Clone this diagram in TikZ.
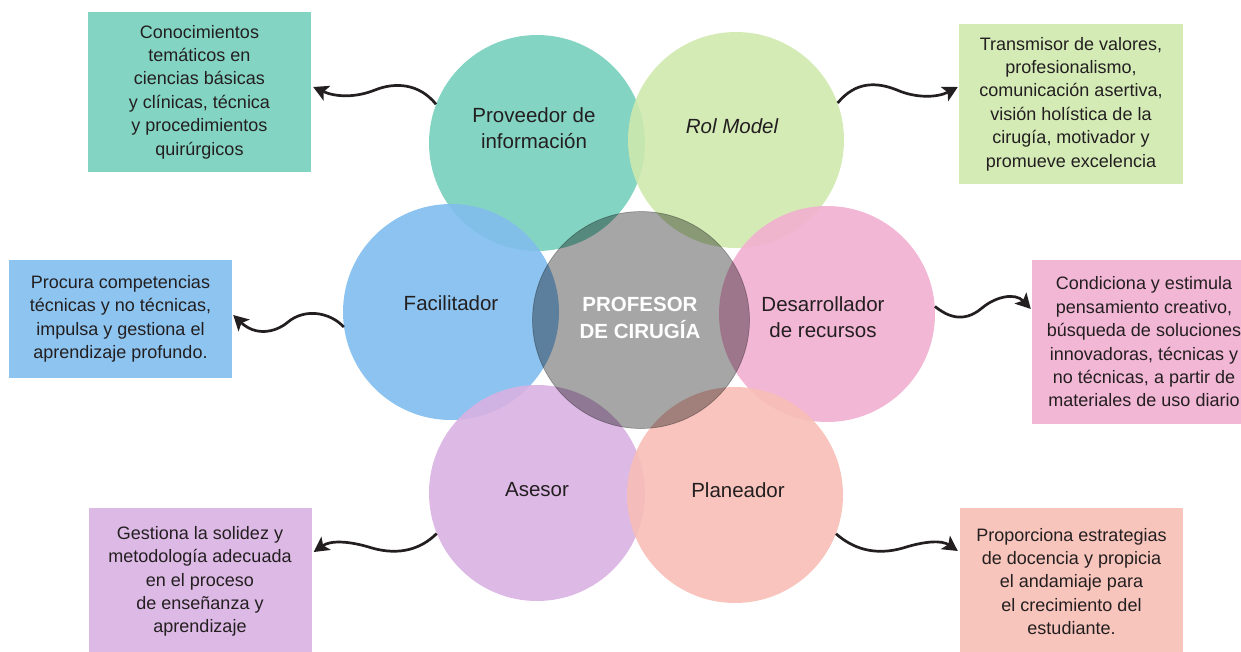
\documentclass[tikz,border=0pt]{standalone}
\usepackage{fontspec}
\setmainfont{Liberation Sans}
\usetikzlibrary{arrows.meta,calc}

\definecolor{ink}{HTML}{231F20}
% circle fills (drawn at 90% opacity)
\definecolor{tealC}{HTML}{76CFBC}
\definecolor{greenC}{HTML}{CFE9AE}
\definecolor{blueC}{HTML}{81BDEE}
\definecolor{pinkC}{HTML}{F2AFD1}
\definecolor{purpleC}{HTML}{D9B1E2}
\definecolor{salmonC}{HTML}{F7BEB6}
% box fills
\definecolor{tealB}{HTML}{84D4C3}
\definecolor{greenB}{HTML}{D4EBB6}
\definecolor{blueB}{HTML}{8EC4F0}
\definecolor{pinkB}{HTML}{F3B7D6}
\definecolor{purpleB}{HTML}{DDB9E5}
\definecolor{salmonB}{HTML}{F8C5BD}

\begin{document}
\begin{tikzpicture}[x=1pt,y=-1pt,
  role/.style={circle,minimum size=216pt,inner sep=0pt,fill opacity=0.9},
  rolelabel/.style={text=ink,align=center,font=\fontsize{20.5}{26.5}\selectfont},
  infobox/.style={rectangle,inner sep=0pt,text=ink,align=center,
                  font=\fontsize{18}{23.4}\selectfont},
  wave/.style={draw=ink,line width=2.7pt,
               -{Stealth[length=15pt,width=16pt,inset=3.5pt]}}]

\useasboundingbox (0,0) rectangle (1241,651);
\clip (0,0) rectangle (1241,651);

% six roles around the centre
\node[role,fill=tealC]   (tealc)   at (537,143) {};
\node[role,fill=greenC]  (greenc)  at (736,140) {};
\node[role,fill=blueC]   (bluec)   at (451,312) {};
\node[role,fill=pinkC]   (pinkc)   at (827,314) {};
\node[role,fill=purpleC] (purplec) at (537,493) {};
\node[role,fill=salmonC] (salmonc) at (735,495) {};

% central circle
\node[circle,minimum size=217pt,inner sep=0pt,fill=black,fill opacity=0.35,
      draw=black,draw opacity=0.3,line width=0.7pt] (core) at (641,320) {};
\node[text=white,align=center,font=\fontsize{20.5}{27.7}\selectfont\bfseries]
     (coretext) at (640,318) {PROFESOR\\DE CIRUGÍA};

% role labels
\node[rolelabel] (tealt)   at (534,128) {Proveedor de\\información};
\node[rolelabel] (greent)  at (732,126) {\itshape Rol Model};
\node[rolelabel] (bluet)   at (451,303) {Facilitador};
\node[rolelabel] (pinkt)   at (823,317) {Desarrollador\\de recursos};
\node[rolelabel] (purplet) at (537,490) {Asesor};
\node[rolelabel] (salmont) at (738,490) {Planeador};

% description boxes
\node[infobox,fill=tealB,minimum width=223pt,minimum height=160pt]
  (tealbox) at (199.5,92)
  {Conocimientos\\temáticos en\\ciencias básicas\\y clínicas, técnica\\y procedimientos\\quirúrgicos};
\node[infobox,fill=greenB,minimum width=224pt,minimum height=160pt]
  (greenbox) at (1071,104)
  {Transmisor de valores,\\profesionalismo,\\comunicación asertiva,\\visión holística de la\\cirugía, motivador y\\promueve excelencia};
\node[infobox,fill=blueB,minimum width=223pt,minimum height=118pt]
  (bluebox) at (120.5,319)
  {Procura competencias\\técnicas y no técnicas,\\impulsa y gestiona el\\aprendizaje profundo.};
\node[infobox,fill=pinkB,minimum width=224pt,minimum height=164pt]
  (pinkbox) at (1144,342)
  {Condiciona y estimula\\pensamiento creativo,\\búsqueda de soluciones\\innovadoras, técnicas y\\no técnicas, a partir de\\materiales de uso diario};
\node[infobox,fill=purpleB,minimum width=223pt,minimum height=147pt]
  (purplebox) at (200,581.5)
  {Gestiona la solidez y\\metodología adecuada\\en el proceso\\de enseñanza y\\aprendizaje};
\node[infobox,fill=salmonB,minimum width=223pt,minimum height=147pt]
  (salmonbox) at (1071.5,581.5)
  {Proporciona estrategias\\de docencia y propicia\\el andamiaje para\\el crecimiento del\\estudiante.};

% wavy connectors
\draw[wave] (tealc.159) .. controls +(-17,-21) and +(20,-8) .. (375,90)
  .. controls +(-20,8) and +(22,10) .. ($(tealbox.east)+(2,-5)$);
\draw[wave] (greenc.20) .. controls +(18,-22) and +(-20,-8) .. (897,90)
  .. controls +(18,8) and +(-21,11) .. ($(greenbox.west)+(-1,-17)$);
\draw[wave] (bluec.188) .. controls +(-14,-15) and +(17,-14) .. (288,322)
  .. controls +(-13,11) and +(22,21) .. ($(bluebox.east)+(1,-4)$);
\draw[wave] (pinkc.4) .. controls +(10,8) and +(-20,17) .. (982,308)
  .. controls +(13,-11) and +(-16,-17) .. ($(pinkbox.west)+(-1,-33)$);
\draw[wave] (purplec.202) .. controls +(-15,15) and +(28,8) .. (372,548)
  .. controls +(-22,-7) and +(17,-12) .. ($(purplebox.east)+(2,-29.5)$);
\draw[wave] (salmonc.339) .. controls +(17,15) and +(-28,8) .. (903,548)
  .. controls +(22,-7) and +(-16,-11) .. ($(salmonbox.west)+(-2,-30.5)$);

\end{tikzpicture}
\end{document}
